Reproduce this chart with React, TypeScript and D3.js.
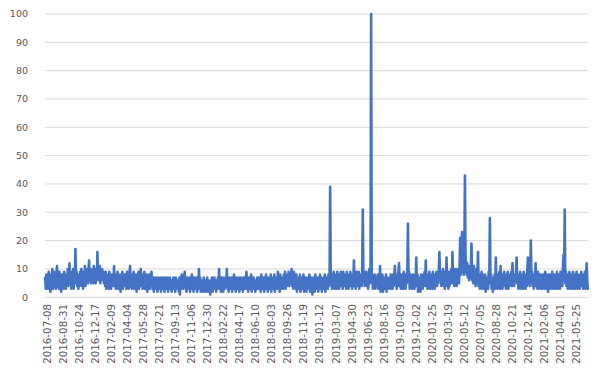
import React from "react";
import * as d3 from "d3";

// Daily series sampled every 2 days, starting 2016-07-08
const startDate = "2016-07-08";
const stepDays = 2;

// 2016-07 .. 2017-07
const valuesA = [
  7,3,8,4,6,3,9,5,7,2,8,4,10,3,6,9,4,7,3,8,
  11,4,7,3,9,5,6,2,8,4,7,3,9,4,6,3,8,5,10,4,
  7,12,5,9,3,8,4,10,3,7,5,17,6,9,4,8,3,7,4,9,
  5,10,4,8,3,9,5,11,4,8,6,10,5,9,13,6,10,5,9,6,
  10,5,11,6,9,5,10,6,16,7,10,6,11,5,9,6,10,7,9,5,
  8,4,9,3,7,5,8,3,9,4,7,3,8,5,7,4,11,5,8,3,
  7,4,9,3,8,5,6,2,8,4,9,3,7,5,8,4,6,3,9,4,
  7,3,8,11,4,8,3,7,5,9,3,6,4,8,2,7,5,9,3,6,
  4,10,5,8,3,7,4,9,3,6,5,8,2,7,4,8,3,6,5,9,
];

// 2017-07 .. 2018-07
const valuesB = [
  6,3,7,2,6,4,7,3,5,2,7,4,6,3,7,2,5,4,7,3,
  6,2,7,4,5,3,7,2,6,4,7,3,5,2,6,4,7,3,6,2,
  7,3,5,4,6,2,7,1,6,3,8,4,6,3,7,9,4,6,2,7,
  3,6,4,7,2,6,3,8,4,6,2,7,3,5,4,7,2,6,3,10,
  4,7,2,6,3,5,2,7,4,6,2,5,3,7,2,6,4,5,1,6,
  3,7,2,6,4,7,3,5,2,6,3,7,4,10,3,6,2,7,4,6,
  2,7,3,6,4,5,10,3,6,2,7,4,6,3,7,2,6,4,8,3,
  6,2,7,4,6,3,7,2,5,4,7,3,6,2,7,4,5,3,7,9,
  3,6,2,7,4,5,3,8,2,6,4,7,3,6,2,5,4,7,3,6,
];

// 2018-07 .. 2019-06
const valuesC = [
  7,3,6,2,8,4,6,3,7,2,6,4,8,3,5,2,7,4,6,3,
  8,2,6,4,7,3,8,2,6,4,7,3,9,4,6,2,8,3,7,4,
  6,3,8,4,9,3,7,4,8,5,9,4,8,5,7,10,4,8,3,9,
  4,7,3,8,2,6,4,7,3,8,2,6,3,7,4,8,2,6,3,7,
  2,6,4,7,3,8,2,5,4,7,1,6,3,7,2,8,4,6,3,7,
  2,6,4,8,3,7,2,6,4,7,3,8,2,6,4,7,3,8,4,6,
  39,5,8,3,7,4,9,3,8,4,6,3,9,4,7,3,8,5,9,4,
  7,3,9,4,8,5,7,3,9,4,8,3,7,5,9,4,8,3,7,5,
  13,4,8,3,9,5,7,4,9,3,8,5,7,4,10,31,6,9,4,8,
];

// 2019-06 .. 2020-06
const valuesD = [
  5,9,4,8,3,7,10,5,9,100,6,8,3,7,4,8,3,7,4,6,
  8,3,7,4,11,2,6,3,8,2,7,4,6,3,8,2,7,3,6,4,
  7,3,8,4,6,3,8,4,7,11,5,8,3,7,4,9,12,4,7,3,
  8,4,6,3,9,4,7,3,8,5,9,26,6,9,3,8,4,7,3,8,
  4,7,3,8,4,14,5,8,2,7,3,6,2,8,4,7,3,8,4,9,
  5,13,4,8,3,7,4,9,3,8,4,7,3,9,5,8,3,7,4,9,
  4,8,5,9,16,6,9,4,8,5,10,4,8,3,9,5,14,4,8,3,
  9,4,8,5,10,6,16,5,9,4,10,5,8,4,10,6,9,5,11,21,
  8,12,23,9,13,8,15,43,14,10,8,12,7,11,6,10,7,9,19,6,
];

// 2020-06 .. 2021-07
const valuesE = [
  9,5,11,6,8,4,10,5,9,16,4,8,3,7,4,9,3,8,4,7,
  3,8,2,7,4,6,3,9,5,28,6,8,3,7,2,6,4,8,3,14,
  5,8,3,7,4,9,3,11,4,8,3,7,4,9,5,8,3,7,4,9,
  3,8,4,7,5,9,4,12,5,8,4,7,6,9,14,5,8,3,7,4,
  9,3,8,4,7,3,9,5,8,3,7,4,9,14,5,8,4,9,20,6,
  9,4,8,3,7,5,12,4,8,3,9,4,7,3,8,4,6,3,8,4,
  7,3,9,4,6,3,8,2,7,4,8,3,6,4,9,3,7,4,8,3,
  6,4,9,3,8,4,7,3,9,5,8,4,10,15,6,31,5,9,4,8,
  3,7,4,9,3,8,5,7,3,9,4,8,3,6,4,9,3,8,4,7,
  3,8,4,9,5,7,3,8,4,9,3,7,12,6,3,
];

const tickLabels = [
  "2016-07-08","2016-08-31","2016-10-24","2016-12-17","2017-02-09","2017-04-04",
  "2017-05-28","2017-07-21","2017-09-13","2017-11-06","2017-12-30","2018-02-22",
  "2018-04-17","2018-06-10","2018-08-03","2018-09-26","2018-11-19","2019-01-12",
  "2019-03-07","2019-04-30","2019-06-23","2019-08-16","2019-10-09","2019-12-02",
  "2020-01-25","2020-03-19","2020-05-12","2020-07-05","2020-08-28","2020-10-21",
  "2020-12-14","2021-02-06","2021-04-01","2021-05-25",
];

const yTicks = [0, 10, 20, 30, 40, 50, 60, 70, 80, 90, 100];
const totalDays = 1829;

export default function App() {
  const W = 603, H = 378;
  const left = 45, right = 588, top = 14, bottom = 297.3;
  const values = [...valuesA, ...valuesB, ...valuesC, ...valuesD, ...valuesE];
  const parse = d3.utcParse("%Y-%m-%d");
  const start = parse(startDate)!;

  const x = d3.scaleLinear().domain([-0.5, totalDays - 0.5]).range([left, right]);
  const y = d3.scaleLinear().domain([0, 100]).range([bottom, top]);

  const line = d3
    .line<number>()
    .x((_, i) => x(i * stepDays))
    .y((v) => y(v));

  const font = "'DejaVu Sans', 'Liberation Sans', sans-serif";

  return (
    <svg
      width={W}
      height={H}
      style={{ position: "absolute", left: 0, top: 0, background: "#fff" }}
      fontFamily={font}
    >
      {yTicks.map((t) => (
        <g key={t}>
          <line x1={left} x2={right} y1={y(t)} y2={y(t)} stroke="#d9d9d9" strokeWidth={1} />
          <text
            x={28}
            y={y(t)}
            dy="0.35em"
            textAnchor="end"
            fontSize={9.5}
            fill="#595959"
          >
            {t}
          </text>
        </g>
      ))}
      <path
        d={line(values) || ""}
        fill="none"
        stroke="#4472C4"
        strokeWidth={2.6}
        strokeLinejoin="round"
        strokeLinecap="round"
      />
      {tickLabels.map((lab) => {
        const d = d3.utcDay.count(start, parse(lab)!);
        const cx = x(d) + 2.2;
        return (
          <text
            key={lab}
            transform={`translate(${cx},304) rotate(-90)`}
            textAnchor="end"
            dy="0.35em"
            fontSize={10.3}
            fill="#595959"
          >
            {lab}
          </text>
        );
      })}
    </svg>
  );
}
